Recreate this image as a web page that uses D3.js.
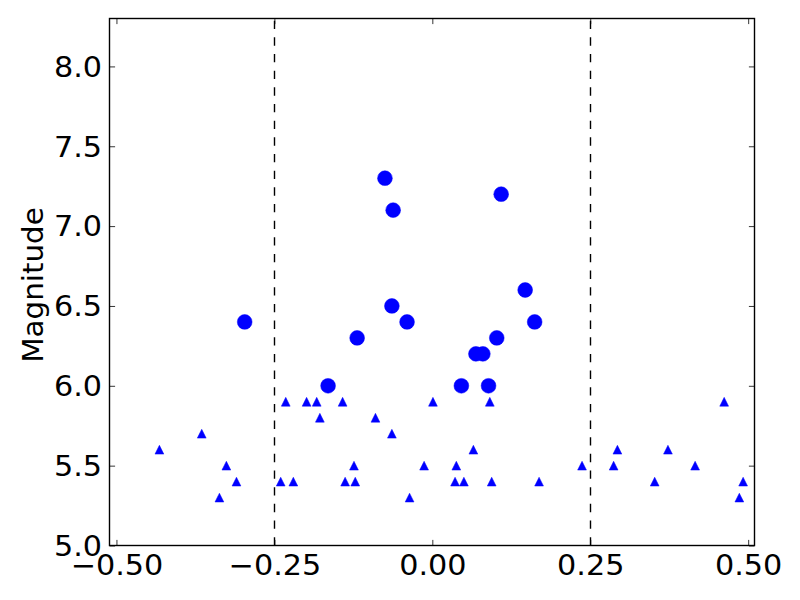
<!DOCTYPE html>
<html>
<head>
<meta charset="utf-8">
<script src="https://cdn.jsdelivr.net/npm/d3@7"></script>
<style>
  html, body { margin: 0; padding: 0; background: #fff; }
  svg { display: block; }
  text { font-family: "DejaVu Sans", sans-serif; fill: #000; }
</style>
</head>
<body>
<svg id="chart" width="800" height="600"></svg>
<script>
// Large events (circles)
const bigX = [-0.297, -0.165, -0.119, -0.075, -0.064, -0.062, -0.040, 0.046, 0.069, 0.080, 0.089, 0.102, 0.109, 0.147, 0.162];
const bigY = [6.4, 6.0, 6.3, 7.3, 6.5, 7.1, 6.4, 6.0, 6.2, 6.2, 6.0, 6.3, 7.2, 6.6, 6.4];
// Small events (triangles)
const smallX = [-0.432, -0.365, -0.337, -0.326, -0.310, -0.240, -0.232, -0.220, -0.199, -0.183, -0.178, -0.142, -0.138, -0.124, -0.122, -0.090, -0.064, -0.036, -0.013, 0.001, 0.036, 0.038, 0.050, 0.065, 0.091, 0.094, 0.169, 0.237, 0.287, 0.293, 0.352, 0.373, 0.416, 0.462, 0.486, 0.492];
const smallY = [5.6, 5.7, 5.3, 5.5, 5.4, 5.4, 5.9, 5.4, 5.9, 5.9, 5.8, 5.9, 5.4, 5.5, 5.4, 5.8, 5.7, 5.3, 5.5, 5.9, 5.4, 5.5, 5.4, 5.6, 5.9, 5.4, 5.4, 5.5, 5.5, 5.6, 5.4, 5.6, 5.5, 5.9, 5.3, 5.4];
// Vertical reference lines
const refLines = [-0.25, 0.25];
// Tick values
const xTicks = [-0.5, -0.25, 0.0, 0.25, 0.5];
const yTicks = [5.0, 5.5, 6.0, 6.5, 7.0, 7.5, 8.0];
const yLabel = "Magnitude";

const L = 109.5, R = 754.5, T = 18.5, B = 545.5;
const x = d3.scaleLinear().domain([-0.511, 0.51]).range([L, R]);
const y = d3.scaleLinear().domain([5.0, 8.3]).range([B, T]);

const svg = d3.select("#chart");
const blue = "#0000ff";
const tickLen = 5.6;
const fs = 28;
const sx = 1.08;

// reference dashed lines
svg.append("g").selectAll("line").data(refLines).join("line")
  .attr("x1", d => Math.round(x(d)) + 0.5).attr("x2", d => Math.round(x(d)) + 0.5)
  .attr("y1", B).attr("y2", T)
  .attr("stroke", "#000").attr("stroke-width", 1.4)
  .attr("stroke-dasharray", "8.33,8.33");

// triangles
const h = 4.4;
svg.append("g").selectAll("path").data(smallX.map((v, i) => [v, smallY[i]])).join("path")
  .attr("d", d => {
    const cx = x(d[0]), cy = y(d[1]);
    return `M${cx},${cy - h}L${cx - h},${cy + h}L${cx + h},${cy + h}Z`;
  })
  .attr("fill", blue).attr("stroke", blue).attr("stroke-width", 0.5);

// circles
svg.append("g").selectAll("circle").data(bigX.map((v, i) => [v, bigY[i]])).join("circle")
  .attr("cx", d => x(d[0])).attr("cy", d => y(d[1])).attr("r", 7.4)
  .attr("fill", blue).attr("stroke", blue).attr("stroke-width", 0.5);

// axes using d3 axis with inward ticks
const fmtX = v => d3.format(".2f")(v).replace("-", "\u2212");
const fmtY = d3.format(".1f");

const gB = svg.append("g").attr("transform", `translate(0,${B})`)
  .call(d3.axisBottom(x).tickValues(xTicks).tickSizeInner(-tickLen).tickSizeOuter(0).tickFormat(fmtX).tickPadding(0));
const gT = svg.append("g").attr("transform", `translate(0,${T})`)
  .call(d3.axisTop(x).tickValues(xTicks).tickSizeInner(-tickLen).tickSizeOuter(0).tickFormat(""));
const gL = svg.append("g").attr("transform", `translate(${L},0)`)
  .call(d3.axisLeft(y).tickValues(yTicks).tickSizeInner(-tickLen).tickSizeOuter(0).tickFormat(fmtY));
const gR = svg.append("g").attr("transform", `translate(${R},0)`)
  .call(d3.axisRight(y).tickValues(yTicks).tickSizeInner(-tickLen).tickSizeOuter(0).tickFormat(""));

[gB, gT, gL, gR].forEach(g => {
  g.select(".domain").remove();
  g.selectAll(".tick line").attr("stroke", "#000").attr("stroke-width", 0.8);
});
gB.selectAll(".tick text").attr("font-size", fs).attr("font-family", "DejaVu Sans")
  .attr("y", 29.5).attr("dy", 0).attr("fill", "#000")
  .attr("transform", `scale(${sx},1)`);
gL.selectAll(".tick text").attr("font-size", fs).attr("font-family", "DejaVu Sans")
  .attr("x", -7.5 / sx).attr("dy", "0.35em").attr("fill", "#000")
  .attr("transform", `scale(${sx},1)`);

// frame
svg.append("rect").attr("x", L).attr("y", T).attr("width", R - L).attr("height", B - T)
  .attr("fill", "none").attr("stroke", "#000").attr("stroke-width", 1.4);

// y label
svg.append("text")
  .attr("transform", `translate(43,${(T + B) / 2 + 3}) rotate(-90) scale(1.05,1)`)
  .attr("text-anchor", "middle")
  .attr("font-size", fs)
  .text(yLabel);
</script>
</body>
</html>
